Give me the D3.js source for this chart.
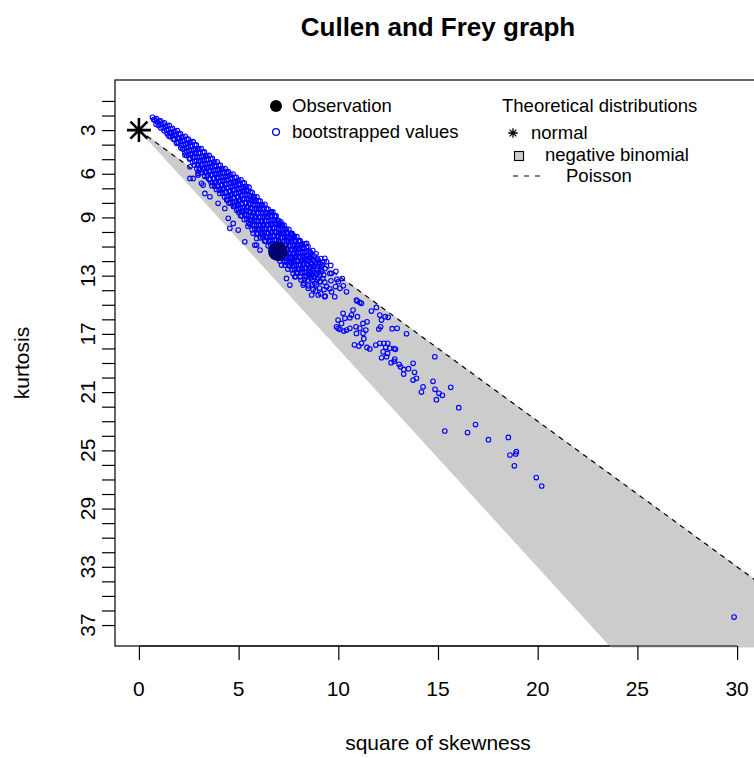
<!DOCTYPE html>
<html><head><meta charset="utf-8">
<script src="https://cdn.jsdelivr.net/npm/d3@7"></script>
<style>
body{margin:0;background:#fff}
text{font-family:"Liberation Sans",Arial,Helvetica,sans-serif;fill:#000}
</style>
</head><body>
<svg id="chart" width="754" height="758"></svg>
<script>
// ---------- data ----------
const chartTitle = "Cullen and Frey graph";
const xTitle = "square of skewness";
const yTitle = "kurtosis";
const xTickValues = [0, 5, 10, 15, 20, 25, 30];
const yTickLabels = [3, 6, 9, 13, 17, 21, 25, 29, 33, 37];
const yTickMin = 1, yTickMax = 37;      // kurtosis ticks every unit
const xDomainLimits = [0, 30];          // square of skewness range (before 4% padding)
const normalPoint = [0, 3];             // normal distribution (skew^2, kurtosis)
const observation = [6.97, 11.33];      // observed (skew^2, kurtosis)
const nbLowerSlope = 1.5;               // negative binomial lower limit  k = 3 + 1.5 s2
const poissonSlope = 1.0;               // Poisson line k = 3 + s2
const legendObs = ["Observation", "bootstrapped values"];
const legendTheo = ["Theoretical distributions", "normal", "negative binomial", "Poisson"];

// bootstrapped values [square of skewness, kurtosis]
const bootstrapped = [
[0.68,2.12],[0.74,2.28],[0.88,2.22],[0.93,2.45],[0.86,2.6],[1.08,2.36],[1.12,2.6],[1.1,2.85],
[1.28,2.5],[1.33,2.78],[1.27,3.05],[1.52,2.68],[1.47,2.95],[1.53,3.22],[1.5,3.4],
[1.68,2.88],[1.73,3.12],[1.69,3.38],[1.72,3.6],[1.92,3.04],[1.87,3.3],[1.93,3.55],[1.9,3.85],
[2.08,3.24],[2.13,3.5],[2.09,3.78],[2.12,4.05],[2.1,4.22],[2.32,3.43],[2.27,3.7],[2.33,3.98],[2.28,4.25],[2.31,4.55],
[2.48,3.62],[2.53,3.88],[2.47,4.15],[2.52,4.42],[2.49,4.7],[2.54,4.98],
[2.72,3.8],[2.67,4.08],[2.73,4.35],[2.68,4.62],[2.71,4.9],[2.69,5.2],
[2.88,4.02],[2.93,4.3],[2.87,4.57],[2.92,4.85],[2.89,5.12],[2.94,5.4],[2.9,5.62],
[3.12,4.28],[3.07,4.55],[3.13,4.82],[3.08,5.1],[3.11,5.38],[3.06,5.65],[3.12,5.9],
[3.28,4.5],[3.33,4.78],[3.27,5.05],[3.32,5.32],[3.29,5.6],[3.34,5.88],[3.3,6.18],
[3.52,4.74],[3.47,5.0],[3.53,5.28],[3.48,5.55],[3.51,5.83],[3.46,6.1],[3.52,6.4],
[3.68,4.95],[3.73,5.22],[3.67,5.5],[3.72,5.78],[3.69,6.05],[3.74,6.33],[3.7,6.6],[3.66,6.82],
[3.92,5.18],[3.87,5.45],[3.93,5.72],[3.88,6.0],[3.91,6.28],[3.86,6.55],[3.92,6.83],[3.89,7.08],
[4.08,5.4],[4.13,5.68],[4.07,5.95],[4.12,6.22],[4.09,6.5],[4.14,6.78],[4.1,7.05],[4.06,7.35],
[4.32,5.64],[4.27,5.9],[4.33,6.18],[4.28,6.45],[4.31,6.72],[4.26,7.0],[4.32,7.28],[4.29,7.6],
[4.48,5.86],[4.53,6.12],[4.47,6.4],[4.52,6.68],[4.49,6.95],[4.54,7.22],[4.5,7.5],[4.46,7.78],[4.51,8.0],
[4.72,6.02],[4.67,6.3],[4.73,6.58],[4.68,6.85],[4.71,7.12],[4.66,7.4],[4.72,7.68],[4.69,7.95],[4.74,8.25],
[4.88,6.24],[4.93,6.5],[4.87,6.78],[4.92,7.05],[4.89,7.33],[4.94,7.6],[4.9,7.88],[4.86,8.15],[4.91,8.5],
[5.12,6.42],[5.07,6.7],[5.13,6.98],[5.08,7.25],[5.11,7.52],[5.06,7.8],[5.12,8.08],[5.09,8.35],[5.14,8.62],[5.1,8.88],
[5.28,6.62],[5.33,6.9],[5.27,7.18],[5.32,7.45],[5.29,7.72],[5.34,8.0],[5.3,8.28],[5.26,8.55],[5.31,8.82],[5.28,9.15],
[5.52,6.92],[5.47,7.2],[5.53,7.48],[5.48,7.75],[5.51,8.02],[5.46,8.3],[5.52,8.58],[5.49,8.85],[5.54,9.12],[5.5,9.4],[5.47,9.6],
[5.68,7.3],[5.73,7.58],[5.67,7.85],[5.72,8.12],[5.69,8.4],[5.74,8.68],[5.7,8.95],[5.66,9.22],[5.71,9.5],[5.68,9.85],
[5.92,7.58],[5.87,7.85],[5.93,8.12],[5.88,8.4],[5.91,8.68],[5.86,8.95],[5.92,9.22],[5.89,9.5],[5.94,9.78],[5.9,10.1],
[6.08,7.88],[6.13,8.15],[6.07,8.42],[6.12,8.7],[6.09,8.98],[6.14,9.25],[6.1,9.52],[6.06,9.8],[6.11,10.08],[6.08,10.4],
[6.32,8.1],[6.27,8.38],[6.33,8.65],[6.28,8.92],[6.31,9.2],[6.26,9.48],[6.32,9.75],[6.29,10.02],[6.34,10.3],[6.3,10.62],
[6.48,8.42],[6.53,8.7],[6.47,8.98],[6.52,9.25],[6.49,9.52],[6.54,9.8],[6.5,10.08],[6.46,10.35],[6.51,10.62],[6.48,10.95],
[6.72,8.62],[6.67,8.9],[6.73,9.18],[6.68,9.45],[6.71,9.72],[6.66,10.0],[6.72,10.28],[6.69,10.55],[6.74,10.82],[6.7,11.1],[6.68,11.35],
[6.88,8.9],[6.93,9.18],[6.87,9.45],[6.92,9.72],[6.89,10.0],[6.94,10.28],[6.9,10.55],[6.86,10.82],[6.91,11.1],[6.88,11.38],[6.93,11.65],
[7.12,9.3],[7.07,9.58],[7.13,9.85],[7.08,10.12],[7.11,10.4],[7.06,10.68],[7.12,10.95],[7.09,11.22],[7.14,11.5],[7.1,11.78],[7.07,12.0],
[7.28,9.52],[7.33,9.8],[7.27,10.08],[7.32,10.35],[7.29,10.62],[7.34,10.9],[7.3,11.18],[7.26,11.45],[7.31,11.72],[7.28,12.0],[7.33,12.28],
[7.52,9.82],[7.47,10.1],[7.53,10.38],[7.48,10.65],[7.51,10.92],[7.46,11.2],[7.52,11.48],[7.49,11.75],[7.54,12.02],[7.5,12.3],[7.47,12.55],
[7.68,10.1],[7.73,10.38],[7.67,10.65],[7.72,10.92],[7.69,11.2],[7.74,11.48],[7.7,11.75],[7.66,12.02],[7.71,12.3],[7.68,12.6],[7.73,12.85],
[7.92,10.32],[7.87,10.6],[7.93,10.88],[7.88,11.15],[7.91,11.42],[7.86,11.7],[7.92,11.98],[7.89,12.25],[7.94,12.52],[7.9,12.8],[7.87,13.05],
[8.08,10.6],[8.13,10.88],[8.07,11.15],[8.12,11.42],[8.09,11.7],[8.14,11.98],[8.1,12.25],[8.06,12.52],[8.11,12.8],[8.08,13.08],[8.13,13.3],
[8.32,10.82],[8.27,11.1],[8.33,11.38],[8.28,11.65],[8.31,11.92],[8.26,12.2],[8.32,12.48],[8.29,12.75],[8.34,13.02],[8.3,13.3],[8.28,13.52],
[8.48,11.0],[8.53,11.32],[8.47,11.62],[8.52,11.95],[8.49,12.3],[8.54,12.62],[8.5,12.95],[8.46,13.3],[8.51,13.7],
[8.72,11.28],[8.67,11.6],[8.73,11.92],[8.68,12.25],[8.71,12.6],[8.66,12.95],[8.72,13.3],[8.69,13.62],[8.74,13.95],
[8.88,11.5],[8.93,11.85],[8.87,12.2],[8.92,12.55],[8.89,12.9],[8.94,13.25],[8.9,13.65],[8.86,14.05],
[9.12,11.82],[9.07,12.2],[9.13,12.6],[9.08,13.0],[9.11,13.4],[9.06,13.85],[9.12,14.25],
[9.28,12.05],[9.33,12.5],[9.27,12.95],[9.32,13.45],[9.29,13.95],[9.34,14.4],
[9.62,12.3],[9.58,12.85],[9.63,13.35],[9.57,13.9],[9.88,12.7],[9.93,13.25],[9.86,13.75],[10.2,13.2],[10.25,13.7],
// interleaved core of the dense cloud
[0.8,2.3],[1.01,2.4],[0.98,2.68],[1.2,2.55],[1.22,2.85],[1.41,2.72],[1.38,3.0],[1.42,3.25],
[1.6,2.92],[1.63,3.2],[1.58,3.45],[1.8,3.1],[1.82,3.38],[1.78,3.66],[2.0,3.28],[2.03,3.56],[1.98,3.84],
[2.2,3.46],[2.18,3.74],[2.22,4.02],[2.2,4.3],[2.4,3.64],[2.43,3.92],[2.38,4.2],[2.41,4.48],[2.4,4.75],
[2.6,3.82],[2.58,4.1],[2.62,4.38],[2.6,4.66],[2.57,4.94],[2.8,4.02],[2.83,4.3],[2.78,4.58],[2.81,4.86],[2.8,5.14],[2.78,5.4],
[3.0,4.28],[2.98,4.56],[3.02,4.84],[3.0,5.12],[2.97,5.4],[3.02,5.66],[3.2,4.52],[3.23,4.8],[3.18,5.08],[3.21,5.36],[3.2,5.64],[3.18,5.92],
[3.4,4.76],[3.38,5.04],[3.42,5.32],[3.4,5.6],[3.37,5.88],[3.42,6.16],
[3.6,4.98],[3.63,5.26],[3.58,5.54],[3.61,5.82],[3.6,6.1],[3.58,6.38],[3.62,6.6],
[3.8,5.2],[3.78,5.48],[3.82,5.76],[3.8,6.04],[3.77,6.32],[3.82,6.6],[3.8,6.86],
[4.0,5.44],[4.03,5.72],[3.98,6.0],[4.01,6.28],[4.0,6.56],[3.98,6.84],[4.02,7.12],
[4.2,5.66],[4.18,5.94],[4.22,6.22],[4.2,6.5],[4.17,6.78],[4.22,7.06],[4.2,7.34],
[4.4,5.88],[4.43,6.16],[4.38,6.44],[4.41,6.72],[4.4,7.0],[4.38,7.28],[4.42,7.56],[4.4,7.8],
[4.6,6.06],[4.58,6.34],[4.62,6.62],[4.6,6.9],[4.57,7.18],[4.62,7.46],[4.6,7.74],[4.58,8.02],
[4.8,6.26],[4.83,6.54],[4.78,6.82],[4.81,7.1],[4.8,7.38],[4.78,7.66],[4.82,7.94],[4.8,8.22],
[5.0,6.46],[4.98,6.74],[5.02,7.02],[5.0,7.3],[4.97,7.58],[5.02,7.86],[5.0,8.14],[4.98,8.42],[5.01,8.66],
[5.2,6.64],[5.23,6.92],[5.18,7.2],[5.21,7.48],[5.2,7.76],[5.18,8.04],[5.22,8.32],[5.2,8.6],[5.17,8.88],
[5.4,6.88],[5.38,7.16],[5.42,7.44],[5.4,7.72],[5.37,8.0],[5.42,8.28],[5.4,8.56],[5.38,8.84],[5.41,9.12],
[5.6,7.24],[5.63,7.52],[5.58,7.8],[5.61,8.08],[5.6,8.36],[5.58,8.64],[5.62,8.92],[5.6,9.2],[5.57,9.48],
[5.8,7.58],[5.78,7.86],[5.82,8.14],[5.8,8.42],[5.77,8.7],[5.82,8.98],[5.8,9.26],[5.78,9.54],[5.81,9.82],
[6.0,7.88],[6.03,8.16],[5.98,8.44],[6.01,8.72],[6.0,9.0],[5.98,9.28],[6.02,9.56],[6.0,9.84],[5.97,10.12],
[6.2,8.14],[6.18,8.42],[6.22,8.7],[6.2,8.98],[6.17,9.26],[6.22,9.54],[6.2,9.82],[6.18,10.1],[6.21,10.38],
[6.4,8.4],[6.43,8.68],[6.38,8.96],[6.41,9.24],[6.4,9.52],[6.38,9.8],[6.42,10.08],[6.4,10.36],[6.37,10.64],
[6.6,8.64],[6.58,8.92],[6.62,9.2],[6.6,9.48],[6.57,9.76],[6.62,10.04],[6.6,10.32],[6.58,10.6],[6.61,10.88],
[6.8,8.9],[6.83,9.18],[6.78,9.46],[6.81,9.74],[6.8,10.02],[6.78,10.3],[6.82,10.58],[6.8,10.86],[6.77,11.14],
[7.0,9.22],[6.98,9.5],[7.02,9.78],[7.0,10.06],[6.97,10.34],[7.02,10.62],[7.0,10.9],[6.98,11.18],[7.01,11.46],
[7.2,9.54],[7.23,9.82],[7.18,10.1],[7.21,10.38],[7.2,10.66],[7.18,10.94],[7.22,11.22],[7.2,11.5],[7.17,11.78],
[7.4,9.8],[7.38,10.08],[7.42,10.36],[7.4,10.64],[7.37,10.92],[7.42,11.2],[7.4,11.48],[7.38,11.76],[7.41,12.04],
[7.6,10.1],[7.63,10.38],[7.58,10.66],[7.61,10.94],[7.6,11.22],[7.58,11.5],[7.62,11.78],[7.6,12.06],[7.57,12.34],
[7.8,10.34],[7.78,10.62],[7.82,10.9],[7.8,11.18],[7.77,11.46],[7.82,11.74],[7.8,12.02],[7.78,12.3],[7.81,12.58],
[8.0,10.6],[8.03,10.88],[7.98,11.16],[8.01,11.44],[8.0,11.72],[7.98,12.0],[8.02,12.28],[8.0,12.56],[7.97,12.84],
[8.2,10.84],[8.18,11.12],[8.22,11.4],[8.2,11.68],[8.17,11.96],[8.22,12.24],[8.2,12.52],[8.18,12.8],
[8.4,11.06],[8.43,11.34],[8.38,11.62],[8.41,11.9],[8.4,12.18],[8.38,12.46],[8.42,12.74],[8.4,13.1],
[8.6,11.4],[8.58,11.75],[8.62,12.1],[8.6,12.45],[8.57,12.8],[8.62,13.15],
[8.8,11.65],[8.83,12.0],[8.78,12.38],[8.81,12.75],[8.8,13.1],[9.0,11.95],[8.98,12.35],[9.02,12.75],[9.0,13.15],
[9.2,12.25],[9.18,12.7],[9.22,13.2],
// lower / upper edge outliers of the dense cloud
[1.89,3.91],[2.31,4.72],[2.56,5.52],[2.56,6.32],[2.72,6.32],[2.97,5.97],[3.22,6.78],[3.31,7.35],[3.56,7.58],
[3.14,6.66],[3.97,8.03],[4.31,8.38],[4.48,9.06],[4.73,9.41],[4.56,9.75],[4.98,9.87],[5.31,10.67],[5.73,10.09],[5.9,10.9],
[3.22,5.75],[2.97,6.09],[4.4,5.97],[4.81,6.55],[5.4,7.12],[5.73,7.81],[6.65,8.61],[6.82,8.95],[7.07,9.41],[7.65,10.21],[8.41,10.78],
[7.15,9.52],[7.23,10.09],[7.73,10.21],[8.07,10.67],[8.16,10.9],[7.82,11.24],[7.9,11.59],[7.57,11.7],[7.32,12.05],[7.65,12.16],
[7.15,12.27],[8.24,11.93],[8.57,11.81],[9.32,11.81],[9.41,12.05],[9.16,12.39],[9.66,12.84],[8.91,12.84],[8.57,12.96],[7.4,13.19],
[7.57,13.65],[7.82,13.08],[8.24,13.65],[8.49,13.87],[8.82,13.53],[9.07,13.42],[9.41,13.76],[9.66,14.11],[9.99,13.42],[10.08,13.87],
[9.82,14.45],[9.32,14.45],[8.99,14.33],[8.66,14.33],[10.41,14.11],[10.91,14.68],[6.07,11.24],[5.81,10.9],[6.23,10.21],[5.9,10.44],
// sparse tail
[10.41,16.74],[10.58,16.62],[10.33,15.93],[10.16,16.28],[9.99,16.05],[9.91,16.51],[9.99,16.62],[10.08,16.69],[10.28,16.81],
[10.58,15.89],[10.66,15.71],[10.24,15.59],[10.91,16.97],[11.28,17.33],[11.24,16.96],[11.38,16.74],[11.08,16.62],[10.89,16.51],
[11.44,16.17],[11.24,16.28],[10.96,15.82],[10.74,15.36],[11.66,15.43],[11.91,15.18],[11.16,14.9],[10.94,14.74],[11.08,14.83],
[12.03,16.67],[12.12,16.51],[12.17,16.05],[12.08,15.71],[12.35,15.82],[12.5,15.86],[12.48,17.65],[12.28,17.65],[12.08,17.65],
[11.88,17.77],[11.58,18.04],[11.44,17.93],[11.03,17.84],[10.81,17.75],[11.16,17.65],[12.58,17.99],[12.38,17.92],[12.8,18.01],
[12.87,18.06],[12.17,18.64],[12.42,18.57],[12.47,18.34],[12.25,18.23],[13.28,19.76],[13.52,19.39],[13.28,19.44],[13.05,19.09],
[13.12,19.26],[12.83,18.73],[12.8,18.88],[12.65,18.98],[12.95,16.62],[12.7,16.64],[13.42,16.99],[14.84,18.57],[13.75,19.02],
[13.82,19.64],[13.92,20.05],[13.75,20.17],[14.25,20.63],[14.17,21.0],[14.75,20.26],[14.85,20.81],[15.05,21.08],[15.22,21.22],
[14.92,21.52],[15.64,20.67],[16.04,22.07],[15.34,23.67],[16.48,23.78],[16.88,23.23],[17.53,24.27],[18.53,24.11],[18.61,25.32],
[18.93,25.09],[18.9,25.25],[18.83,26.06],[19.93,26.87],[20.2,27.45],[29.85,36.45]
];

// ---------- layout ----------
const svg = d3.select("#chart");
const plot = {left:115, right:761, top:80, bottom:646};
const padX = (xDomainLimits[1]-xDomainLimits[0])*0.04;
const x = d3.scaleLinear().domain([xDomainLimits[0]-padX, xDomainLimits[1]+padX]).range([plot.left, plot.right]);
const ySpan = yTickMax - yTickMin; // 36
const padY = ySpan*0.04;
const y = d3.scaleLinear().domain([yTickMax+padY, yTickMin-padY]).range([plot.bottom, plot.top]);

svg.append("rect").attr("width",754).attr("height",758).attr("fill","#fff");

const defs = svg.append("defs");
defs.append("clipPath").attr("id","clipPlot").append("rect")
  .attr("x",plot.left).attr("y",plot.top).attr("width",plot.right-plot.left).attr("height",plot.bottom-plot.top);
defs.append("clipPath").attr("id","clipPoly").append("rect")
  .attr("x",plot.left).attr("y",plot.top).attr("width",plot.right-plot.left).attr("height",plot.bottom-plot.top+1.5);

// box
svg.append("rect").attr("x",plot.left).attr("y",plot.top)
  .attr("width",plot.right-plot.left).attr("height",plot.bottom-plot.top)
  .attr("fill","none").attr("stroke","#000").attr("stroke-width",1.2);

// negative binomial region
const far = 200;
const nbPoly = [[normalPoint[0],normalPoint[1]],[far,normalPoint[1]+nbLowerSlope*far],[far,normalPoint[1]+poissonSlope*far]];
svg.append("path").attr("clip-path","url(#clipPoly)")
  .attr("d", d3.line()(nbPoly.map(d=>[x(d[0]),y(d[1])]))+"Z")
  .attr("fill","#cccccc").attr("stroke","#cccccc");

// Poisson line
svg.append("line").attr("clip-path","url(#clipPlot)")
  .attr("x1",x(normalPoint[0])).attr("y1",y(normalPoint[1]))
  .attr("x2",x(far)).attr("y2",y(normalPoint[1]+poissonSlope*far))
  .attr("stroke","#000").attr("stroke-width",1.2).attr("stroke-dasharray","5,5");

// axes
const xAxis = svg.append("g").attr("transform",`translate(0,${plot.bottom})`)
  .call(d3.axisBottom(x).tickValues(xTickValues).tickSize(14).tickFormat(""));
xAxis.select(".domain").remove();
xAxis.selectAll(".tick line").attr("stroke","#000").attr("stroke-width",1.2);
svg.append("line").attr("x1",x(xTickValues[0])).attr("x2",x(xTickValues[xTickValues.length-1]))
  .attr("y1",plot.bottom).attr("y2",plot.bottom).attr("stroke","#000").attr("stroke-width",1.2);
svg.append("g").selectAll("text").data(xTickValues).join("text")
  .attr("x",d=>x(d)).attr("y",689).attr("dy","0.35em").attr("text-anchor","middle")
  .attr("font-size",21).text(d=>d);

const yAxis = svg.append("g").attr("transform",`translate(${plot.left},0)`)
  .call(d3.axisLeft(y).tickValues(d3.range(yTickMin, yTickMax+1)).tickSize(13).tickFormat(""));
yAxis.select(".domain").remove();
yAxis.selectAll(".tick line").attr("stroke","#000").attr("stroke-width",1.2);
svg.append("g").selectAll("text").data(yTickLabels).join("text")
  .attr("transform",d=>`translate(88,${y(d)}) rotate(-90)`)
  .attr("dy","0.35em").attr("text-anchor","middle").attr("font-size",21).text(d=>d);

// titles
svg.append("text").attr("x",(plot.left+plot.right)/2).attr("y",27).attr("dy","0.35em")
  .attr("text-anchor","middle").attr("font-size",26).attr("font-weight","bold").text(chartTitle);
svg.append("text").attr("x",(plot.left+plot.right)/2).attr("y",743).attr("dy","0.35em")
  .attr("text-anchor","middle").attr("font-size",21).text(xTitle);
svg.append("text").attr("transform",`translate(22,${(plot.top+plot.bottom)/2}) rotate(-90)`)
  .attr("dy","0.35em").attr("text-anchor","middle").attr("font-size",21).text(yTitle);

// normal point (star)
function star(g, cx, cy, a, sw){
  const d = a/Math.SQRT2;
  const p = `M${cx-a},${cy}H${cx+a}M${cx},${cy-a}V${cy+a}M${cx-d},${cy-d}L${cx+d},${cy+d}M${cx-d},${cy+d}L${cx+d},${cy-d}`;
  g.append("path").attr("d",p).attr("stroke","#000").attr("stroke-width",sw).attr("fill","none");
}
star(svg, x(normalPoint[0]), y(normalPoint[1]), 12, 2.6);

// bootstrapped
svg.append("g").attr("clip-path","url(#clipPlot)").selectAll("circle").data(bootstrapped).join("circle")
  .attr("cx",d=>x(d[0])).attr("cy",d=>y(d[1])).attr("r",2.3)
  .attr("fill","none").attr("stroke","#0000ff").attr("stroke-width",1.1);

// observation
svg.append("circle").attr("cx",x(observation[0])).attr("cy",y(observation[1])).attr("r",9.8).attr("fill","#000075");

// legends
const lfs = 18.5;
svg.append("circle").attr("cx",276).attr("cy",106).attr("r",6).attr("fill","#000");
svg.append("text").attr("x",292).attr("y",106).attr("dy","0.35em").attr("font-size",lfs).text(legendObs[0]);
svg.append("circle").attr("cx",276).attr("cy",132).attr("r",3.4).attr("fill","none").attr("stroke","#0000ff").attr("stroke-width",1.3);
svg.append("text").attr("x",292).attr("y",132).attr("dy","0.35em").attr("font-size",lfs).text(legendObs[1]);

svg.append("text").attr("x",502).attr("y",106).attr("dy","0.35em").attr("font-size",lfs).text(legendTheo[0]);
star(svg, 513, 133, 4.8, 1.3);
svg.append("text").attr("x",531).attr("y",133).attr("dy","0.35em").attr("font-size",lfs).text(legendTheo[1]);
svg.append("rect").attr("x",514.5).attr("y",151.5).attr("width",9).attr("height",9)
  .attr("fill","#cccccc").attr("stroke","#000").attr("stroke-width",1.1);
svg.append("text").attr("x",545).attr("y",155).attr("dy","0.35em").attr("font-size",lfs).text(legendTheo[2]);
svg.append("line").attr("x1",513).attr("x2",540).attr("y1",176).attr("y2",176)
  .attr("stroke","#000").attr("stroke-width",1.2).attr("stroke-dasharray","5,6");
svg.append("text").attr("x",566).attr("y",176).attr("dy","0.35em").attr("font-size",lfs).text(legendTheo[3]);
</script>
</body></html>
